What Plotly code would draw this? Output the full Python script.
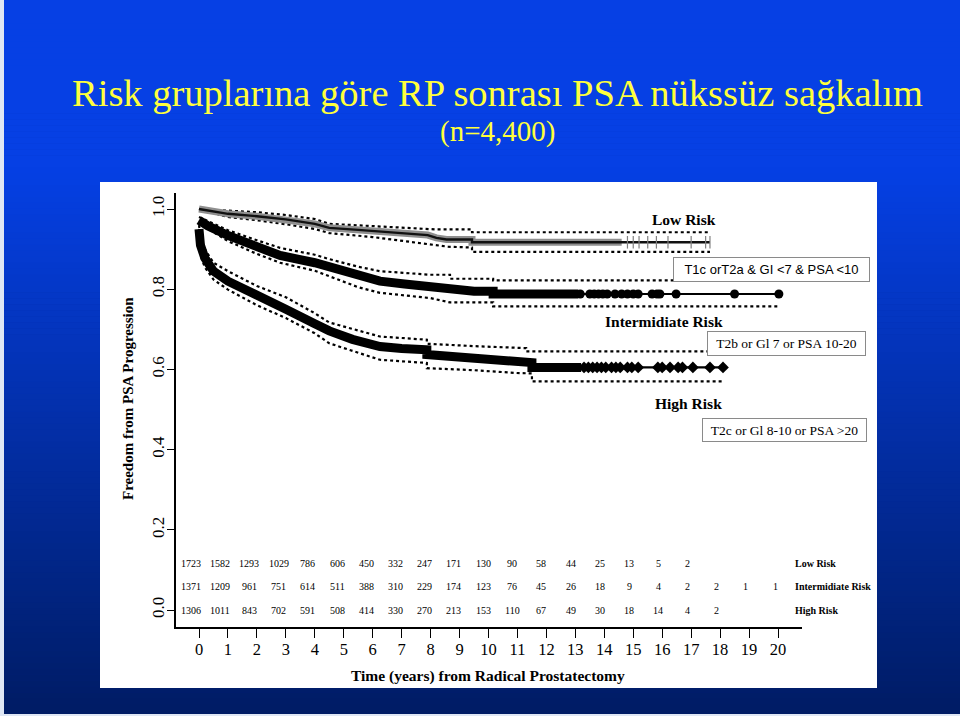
import numpy as np
import plotly.graph_objects as go

# ---------------- data ----------------
years = list(range(0, 21))

low_at_risk = [1723, 1582, 1293, 1029, 786, 606, 450, 332, 247, 171, 130, 90, 58, 44, 25, 13, 5, 2]
int_at_risk = [1371, 1209, 961, 751, 614, 511, 388, 310, 229, 174, 123, 76, 45, 26, 18, 9, 4, 2, 2, 1, 1]
high_at_risk = [1306, 1011, 843, 702, 591, 508, 414, 330, 270, 213, 153, 110, 67, 49, 30, 18, 14, 4, 2]

# Low risk
low_t = [0, 0.5, 1, 2, 3, 4, 4.5, 5.5, 6.3, 7.05, 7.9, 8.2, 8.55, 9.43, 9.43, 17.65]
low_s = [1.0, 0.994, 0.988, 0.982, 0.974, 0.963, 0.953, 0.948, 0.944, 0.941, 0.935, 0.928, 0.924, 0.924, 0.917, 0.917]
low_up_t = [0, 1, 2, 3, 4, 4.5, 6, 7.05, 8.2, 9.43, 9.43, 17.65]
low_up_s = [1.0, 0.996, 0.992, 0.985, 0.975, 0.963, 0.957, 0.953, 0.949, 0.949, 0.942, 0.942]
low_lo_t = [0, 1, 2, 3, 4, 4.5, 6, 7.05, 8.0, 8.6, 9.43, 9.43, 17.65]
low_lo_s = [1.0, 0.98, 0.972, 0.962, 0.95, 0.94, 0.93, 0.92, 0.912, 0.906, 0.904, 0.893, 0.893]
low_censor = [14.8, 15.0, 15.2, 15.5, 15.8, 16.2, 17.0, 17.5, 17.65]

# Intermediate risk
int_t = [0, 0.3, 1, 2, 2.8, 4, 4.5, 5.3, 6.25, 7.1, 7.98, 8.67, 9.5, 10.16, 10.16, 20.07]
int_s = [0.972, 0.958, 0.934, 0.905, 0.884, 0.866, 0.855, 0.838, 0.82, 0.813, 0.807, 0.799, 0.795, 0.795, 0.788, 0.788]
int_up_t = [0, 1, 2, 2.8, 4, 4.5, 5.5, 6.25, 7.98, 8.67, 8.67, 10.16, 10.16, 20.07]
int_up_s = [0.98, 0.947, 0.922, 0.903, 0.886, 0.875, 0.856, 0.845, 0.836, 0.836, 0.826, 0.826, 0.822, 0.822]
int_lo_t = [0, 1, 2, 2.8, 4, 4.5, 5.5, 6.25, 7.98, 8.67, 10.16, 10.16, 20.07]
int_lo_s = [0.964, 0.92, 0.888, 0.866, 0.846, 0.832, 0.805, 0.791, 0.778, 0.767, 0.767, 0.757, 0.757]
int_censor = [13.17, 13.5, 13.65, 13.8, 13.95, 14.1, 14.37, 14.6, 14.8, 15.0, 15.17,
              15.65, 15.82, 15.92, 16.48, 18.5, 20.03]

# High risk
high_t = [0, 0.05, 0.2, 0.5, 1, 2, 3, 4, 4.5, 5.3, 6.25, 7.0, 7.87, 7.87, 9.0, 10.2, 11.0, 11.5, 11.5, 18.1]
high_s = [0.95, 0.91, 0.878, 0.845, 0.82, 0.782, 0.75, 0.714, 0.696, 0.675, 0.657, 0.652, 0.649, 0.637,
          0.632, 0.625, 0.62, 0.617, 0.605, 0.605]
high_up_t = [0, 0.05, 0.2, 0.5, 1, 2, 3, 4, 4.5, 6.25, 7.87, 7.87, 9.5, 11.0, 11.3, 11.3, 18.1]
high_up_s = [0.96, 0.935, 0.9, 0.866, 0.845, 0.808, 0.78, 0.74, 0.717, 0.682, 0.674, 0.664, 0.658, 0.653,
             0.653, 0.645, 0.645]
high_lo_t = [0, 0.05, 0.2, 0.5, 1, 2, 3, 4, 4.5, 6.25, 7.87, 7.87, 9.5, 10.2, 10.98, 11.5, 11.5, 18.1]
high_lo_s = [0.94, 0.885, 0.855, 0.824, 0.799, 0.76, 0.728, 0.69, 0.665, 0.624, 0.616, 0.603, 0.598, 0.594,
             0.591, 0.59, 0.57, 0.57]
high_censor = [13.3, 13.45, 13.6, 13.75, 13.9, 14.05, 14.25, 14.4, 14.55, 14.8, 14.95, 15.17,
               15.85, 16.0, 16.27, 16.55, 16.7, 17.06, 17.65, 18.1]

# ---------------- geometry helpers ----------------
W, H = 960, 716


def pxx(x):
    return x / W


def pxy(y):
    return 1 - y / H


X_ZERO, X_PER = 199.0, 28.95
Y_ZERO, Y_PER = 610.0, 401.0

fig = go.Figure()


def head(t, s, tmax):
    t = np.asarray(t, float)
    s = np.asarray(s, float)
    m = t <= tmax
    tt = list(t[m]) + [tmax]
    ss = list(s[m]) + [float(np.interp(tmax, t, s))]
    return tt, ss


def line(t, s, width, color="black", dash="solid"):
    fig.add_trace(go.Scatter(x=t, y=s, mode="lines", hoverinfo="skip",
                             line=dict(color=color, width=width, dash=dash)))


# confidence limits (dotted)
for t, s in [(low_up_t, low_up_s), (low_lo_t, low_lo_s),
             (int_up_t, int_up_s), (int_lo_t, int_lo_s),
             (high_up_t, high_up_s), (high_lo_t, high_lo_s)]:
    line(t, s, 2.2, dash="dot")

# dense censoring bands
bt, bs = head(low_t, low_s, 14.6)
line(bt, bs, 7, color="#8f8f8f")
bt, bs = head(int_t, int_s, 13.1)
line(bt, bs, 9)
bt, bs = head(high_t, high_s, 13.2)
line(bt, bs, 9)

# main survival lines
line(low_t, low_s, 2.4, color="#111111")
line(int_t, int_s, 2.2)
line(high_t, high_s, 2.2)

# censoring marks in the sparse tails
fig.add_trace(go.Scatter(x=low_censor, y=list(np.interp(low_censor, low_t, low_s)), mode="markers",
                         hoverinfo="skip",
                         marker=dict(symbol="line-ns-open", size=9, color="#808080",
                                     line=dict(color="#808080", width=1.2))))
fig.add_trace(go.Scatter(x=int_censor, y=list(np.interp(int_censor, int_t, int_s)), mode="markers",
                         hoverinfo="skip", marker=dict(symbol="circle", size=9, color="black")))
fig.add_trace(go.Scatter(x=high_censor, y=list(np.interp(high_censor, high_t, high_s)), mode="markers",
                         hoverinfo="skip", marker=dict(symbol="diamond", size=9, color="black")))

# ---------------- background ----------------
shapes = []
top_c = np.array([6, 64, 228])
bot_c = np.array([0, 28, 100])
n_band = 120
for i in range(n_band):
    y0 = H * i / n_band
    y1 = H * (i + 1) / n_band
    ym = (y0 + y1) / 2
    f = 0.0 if ym < 170 else (ym - 170) / (H - 170)
    c = (top_c + (bot_c - top_c) * f).astype(int)
    shapes.append(dict(type="rect", xref="paper", yref="paper", x0=0, x1=1,
                       y0=pxy(y1 + 0.5), y1=pxy(y0), fillcolor=f"rgb({c[0]},{c[1]},{c[2]})",
                       line=dict(width=0), layer="below"))
shapes.append(dict(type="rect", xref="paper", yref="paper", x0=0, x1=pxx(4), y0=0, y1=1,
                   fillcolor="#dfe7f4", line=dict(width=0), layer="below"))
shapes.append(dict(type="rect", xref="paper", yref="paper", x0=0, x1=1, y0=0, y1=pxy(714),
                   fillcolor="#dfe7f4", line=dict(width=0), layer="below"))
# white chart panel
shapes.append(dict(type="rect", xref="paper", yref="paper", x0=pxx(100), x1=pxx(877),
                   y0=pxy(688), y1=pxy(182), fillcolor="white", line=dict(width=0), layer="below"))

# ---------------- annotations ----------------
SERIF = "Times New Roman, Liberation Serif, serif"
SANS = "Arial, Liberation Sans, sans-serif"
ann = []


def note(text, x, y, size, family=SERIF, color="black", **kw):
    d = dict(text=text, xref="paper", yref="paper", x=pxx(x), y=pxy(y), xanchor="center",
             yanchor="middle", showarrow=False, font=dict(family=family, size=size, color=color))
    d.update(kw)
    ann.append(d)


note("Risk gruplarına göre RP sonrası PSA nükssüz sağkalım", 497, 93, 38.5, color="#ffff3c")
note("(n=4,400)", 497, 132, 29, color="#ffff3c")
note("<b>Freedom from PSA Progression</b>", 128, 399, 15, textangle=-90)
note("<b>Time (years) from Radical Prostatectomy</b>", 488, 676, 15.5)

for txt, cx, cy in [("Low Risk", 683.5, 219), ("Intermidiate Risk", 664, 321), ("High Risk", 688, 403)]:
    note(f"<b>{txt}</b>", cx, cy, 15.5)

for txt, x0, x1, y0, y1, fam, fs in [
        ("T1c orT2a &amp; GI &lt;7 &amp; PSA &lt;10", 673, 870, 257, 282, SANS, 13),
        ("T2b or Gl 7 or PSA 10-20", 707, 866, 331, 356, SERIF, 13.5),
        ("T2c or Gl 8-10 or PSA &gt;20", 702, 867, 418, 442, SERIF, 13.5)]:
    note(txt, (x0 + x1) / 2, (y0 + y1) / 2, fs, family=fam, width=x1 - x0 - 2, height=y1 - y0 - 2,
         borderpad=0, bordercolor="#8a8a8a", borderwidth=1, bgcolor="white")

row_y = {"low": 0.115, "int": 0.058, "high": 0.0}
for key, vals in [("low", low_at_risk), ("int", int_at_risk), ("high", high_at_risk)]:
    for i, v in enumerate(vals):
        ann.append(dict(text=str(v), xref="x", yref="y", x=years[i], y=row_y[key], xshift=-8 + 0.25 * i,
                        xanchor="center", yanchor="middle",
                        showarrow=False, font=dict(family=SERIF, size=10, color="black")))
for key, txt in [("low", "Low Risk"), ("int", "Intermidiate Risk"), ("high", "High Risk")]:
    ann.append(dict(text=f"<b>{txt}</b>", xref="paper", yref="y", x=pxx(793), y=row_y[key], xanchor="left",
                    yanchor="middle", showarrow=False, font=dict(family=SERIF, size=10, color="black")))

fig.update_layout(
    width=W, height=H, margin=dict(l=0, r=0, t=0, b=0),
    paper_bgcolor="rgb(0,40,150)", plot_bgcolor="rgba(0,0,0,0)",
    showlegend=False, shapes=shapes, annotations=ann,
    xaxis=dict(domain=[pxx(176), pxx(802)],
               range=[(176 - X_ZERO) / X_PER, (802 - X_ZERO) / X_PER],
               tickmode="array", tickvals=years, ticktext=[str(v) for v in years],
               ticks="outside", ticklen=9, tickwidth=1.2, tickcolor="black",
               ticklabelstandoff=-3,
               showline=True, linecolor="black", linewidth=2, showgrid=False, zeroline=False,
               tickfont=dict(family=SERIF, size=16.5, color="black")),
    yaxis=dict(domain=[pxy(627), pxy(193)],
               range=[(Y_ZERO - 627) / Y_PER, (Y_ZERO - 193) / Y_PER],
               tickmode="array", tickvals=[0, 0.2, 0.4, 0.6, 0.8, 1.0],
               ticktext=["0.0", "0.2", "0.4", "0.6", "0.8", "1.0"], tickangle=-90,
               ticks="outside", ticklen=7, tickwidth=1.2, tickcolor="black",
               ticklabelstandoff=-4,
               showline=True, linecolor="black", linewidth=2, showgrid=False, zeroline=False,
               tickfont=dict(family=SERIF, size=17, color="black")),
)

fig.write_html("out.html")
